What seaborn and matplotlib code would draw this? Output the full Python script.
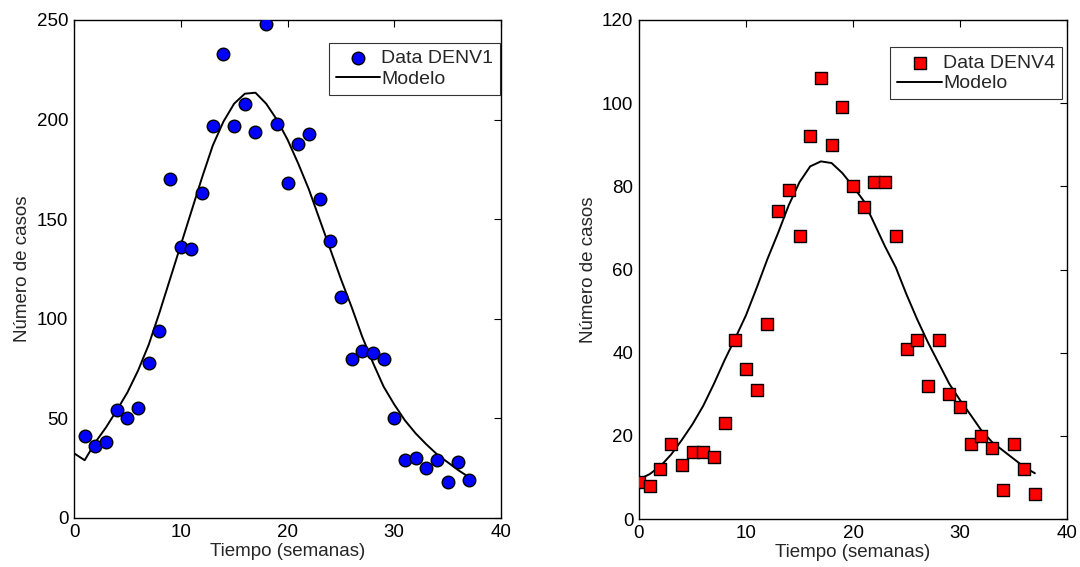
import numpy as np
import pandas as pd
import matplotlib
matplotlib.use("Agg")
import matplotlib.pyplot as plt
import seaborn as sns

# ---------------- data ----------------
weeks_data = list(range(1, 38))
denv1_cases = [41, 36, 38, 54, 50, 55, 78, 94, 170, 136, 135, 163, 197, 233, 197, 208,
               194, 248, 198, 168, 188, 193, 160, 139, 111, 80, 84, 83, 80, 50, 29, 30,
               25, 29, 18, 28, 19]

weeks_model = list(range(0, 38))
denv1_model = [32.5, 29, 38, 45.5, 54, 63, 74, 87, 103, 120, 137, 154, 171, 187, 199, 208,
               213, 213.5, 208, 200, 190, 178, 165, 150, 135, 120, 106, 91, 78, 66, 57, 49,
               42.5, 37, 32, 28, 24, 20.5]

weeks_data4 = list(range(0, 38))
denv4_cases = [9, 8, 12, 18, 13, 16, 16, 15, 23, 43, 36, 31, 47, 74, 79, 68, 92, 106, 90,
               99, 80, 75, 81, 81, 68, 41, 43, 32, 43, 30, 27, 18, 20, 17, 7, 18, 12, 6]

denv4_model = [9.5, 10.8, 12.7, 15.5, 19, 22.8, 27.2, 32.5, 38.2, 43.5, 49, 55.6, 62.5,
               68.8, 75.5, 81, 84.8, 86, 85.6, 83.2, 80, 76.5, 71, 65.5, 60.5, 54, 48,
               42.5, 37.5, 32.5, 28.6, 25, 21.3, 18.5, 16.5, 14.5, 12.5, 11]

x_ticks = [0, 10, 20, 30, 40]
y_ticks_left = [0, 50, 100, 150, 200, 250]
y_ticks_right = [0, 20, 40, 60, 80, 100, 120]

label_data1 = "Data DENV1"
label_data4 = "Data DENV4"
label_model = "Modelo"
xlabel = "Tiempo (semanas)"
ylabel = "Número de casos"

# ---------------- style ----------------
sns.set_style("white")
plt.rcParams["font.family"] = ["Liberation Sans", "DejaVu Sans"]
plt.rcParams["axes.edgecolor"] = "black"
plt.rcParams["axes.linewidth"] = 1.0

fig = plt.figure(figsize=(10.8, 5.67), dpi=100)
ax1 = fig.add_axes([74 / 1080, 49 / 567, 427 / 1080, 498 / 567])
ax2 = fig.add_axes([639 / 1080, 48 / 567, 428 / 1080, 499 / 567])

df1 = pd.DataFrame({"t": weeks_data, "v": denv1_cases})
dm1 = pd.DataFrame({"t": weeks_model, "v": denv1_model})
df4 = pd.DataFrame({"t": weeks_data4, "v": denv4_cases})
dm4 = pd.DataFrame({"t": weeks_model, "v": denv4_model})

sns.scatterplot(data=df1, x="t", y="v", ax=ax1, marker="o", s=82, color="#0000ff",
                edgecolor="black", linewidth=1.0, label=label_data1, zorder=3)
sns.lineplot(data=dm1, x="t", y="v", ax=ax1, color="black", linewidth=1.4,
             estimator=None, sort=False, label=label_model, zorder=2)

sns.scatterplot(data=df4, x="t", y="v", ax=ax2, marker="s", s=64, color="#ff0000",
                edgecolor="black", linewidth=1.0, label=label_data4, zorder=3)
sns.lineplot(data=dm4, x="t", y="v", ax=ax2, color="black", linewidth=1.4,
             estimator=None, sort=False, label=label_model, zorder=2)

for ax, yt, ymax, dlabel, anchor in [
    (ax1, y_ticks_left, 250, label_data1, (0.998, 0.954)),
    (ax2, y_ticks_right, 120, label_data4, (0.988, 0.945)),
]:
    ax.set_xlim(0, 40)
    ax.set_ylim(0, ymax)
    ax.set_xticks(x_ticks)
    ax.set_yticks(yt)
    ax.tick_params(direction="in", length=5, width=0.8, top=True, right=True,
                   labelsize=13.5, colors="black", pad=4)
    for s in ax.spines.values():
        s.set_visible(True)
        s.set_color("black")
        s.set_linewidth(1.0)
    ax.set_xlabel(xlabel, fontsize=13.5, labelpad=2)
    ax.set_ylabel(ylabel, fontsize=13.5, labelpad=4)
    h, l = ax.get_legend_handles_labels()
    order = [l.index(dlabel), l.index(label_model)]
    leg = ax.legend([h[i] for i in order], [l[i] for i in order],
                    loc="upper right", bbox_to_anchor=anchor, fontsize=14,
                    frameon=True, fancybox=False, edgecolor="black",
                    handlelength=2.3, handletextpad=0.05, borderpad=0.35,
                    labelspacing=0.15, borderaxespad=0.0, scatterpoints=1)
    leg.get_frame().set_linewidth(0.8)

fig.savefig("out.png", dpi=100)
